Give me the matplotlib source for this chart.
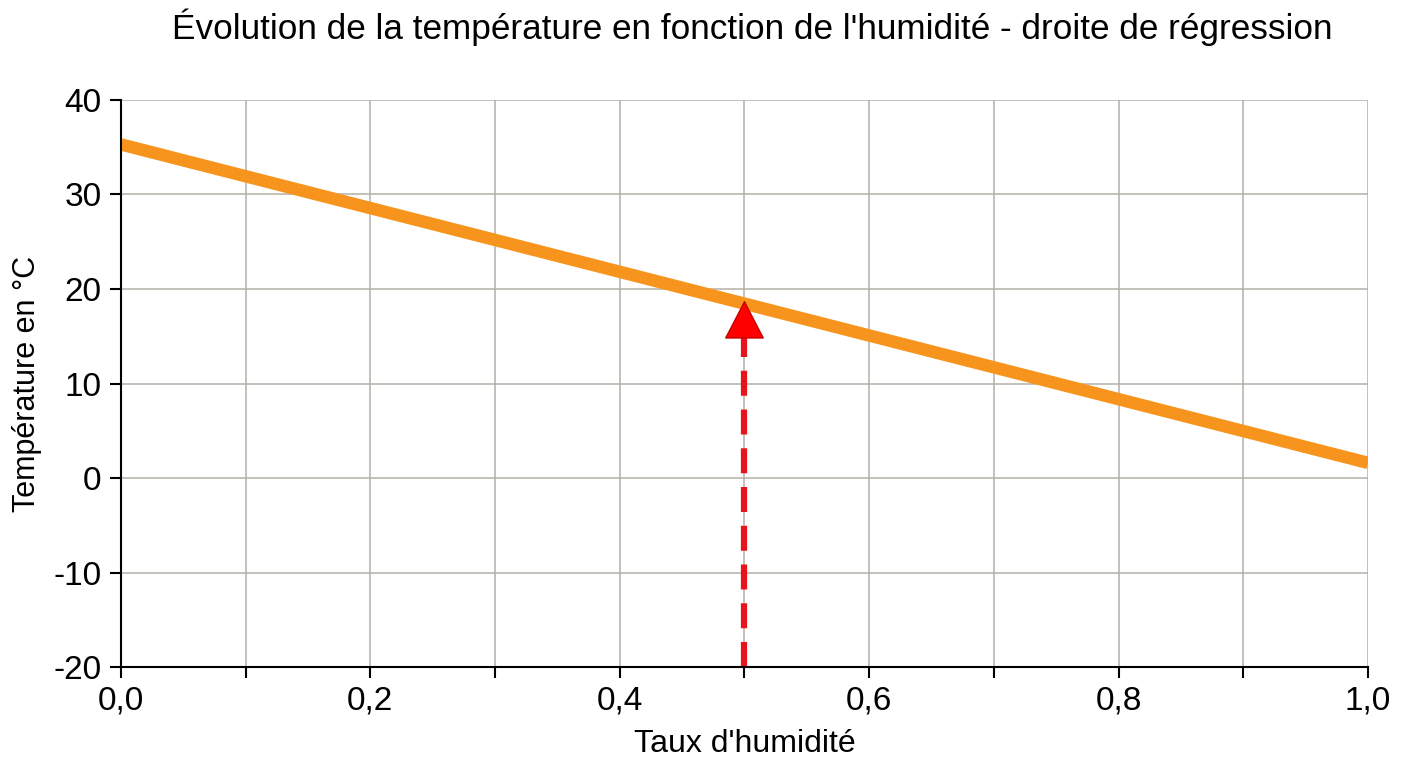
import matplotlib
matplotlib.use("Agg")
from matplotlib import pyplot as plt
from matplotlib.ticker import MultipleLocator, FuncFormatter

plt.rcParams['font.family'] = ['Liberation Sans', 'DejaVu Sans']
plt.rcParams['axes.unicode_minus'] = False

# regression line end points (humidity rate -> temperature)
x_fit = [0.0, 1.0]
y_fit = [35.3, 1.6]

# reading for a humidity of 0.5
x_read = 0.5
y_read = 18.8

title = "Évolution de la température en fonction de l'humidité - droite de régression"

fig = plt.figure(figsize=(14.08, 7.68), dpi=100)
ax = fig.add_axes([0.0859, 0.1315, 0.8857, 0.7383])

ax.plot(x_fit, y_fit, color='#F7941D', lw=9, solid_capstyle='butt', zorder=3)

# dashed red arrow
ax.plot([x_read, x_read], [-20, y_read - 3.9], color='#E8141B', lw=4.5,
        dashes=(4, 2.2), solid_capstyle='butt', zorder=4)
ax.annotate('', xy=(x_read, y_read), xytext=(x_read, y_read - 3.9),
            arrowprops=dict(arrowstyle='-|>,head_length=2.6,head_width=1.35',
                            fc='#FF0000', ec='#C80000', lw=1, shrinkA=0, shrinkB=0),
            zorder=5)

ax.set_xlim(0, 1)
ax.set_ylim(-20, 40)
ax.xaxis.set_major_locator(MultipleLocator(0.2))
ax.xaxis.set_minor_locator(MultipleLocator(0.1))
ax.yaxis.set_major_locator(MultipleLocator(10))
ax.xaxis.set_major_formatter(FuncFormatter(lambda v, p: ("%.1f" % v).replace('.', ',')))

ax.grid(True, which='both', color='#B3B0A6', lw=1.1)
ax.set_axisbelow(True)
for s in ['top', 'right']:
    ax.spines[s].set_visible(False)
for s in ['left', 'bottom']:
    ax.spines[s].set_linewidth(1.5)
    ax.spines[s].set_zorder(6)

ax.tick_params(which='both', direction='out', length=8, width=1.5, labelsize=24)
ax.tick_params(axis='x', pad=5)
ax.tick_params(axis='y', pad=6)

ax.set_xlabel("Taux d'humidité", fontsize=23, labelpad=9)
ax.set_ylabel("Température en °C", fontsize=22, labelpad=8)
fig.text(0.534, 0.965, title, ha='center', va='center', fontsize=25.3)

fig.savefig("out.png", dpi=100)
